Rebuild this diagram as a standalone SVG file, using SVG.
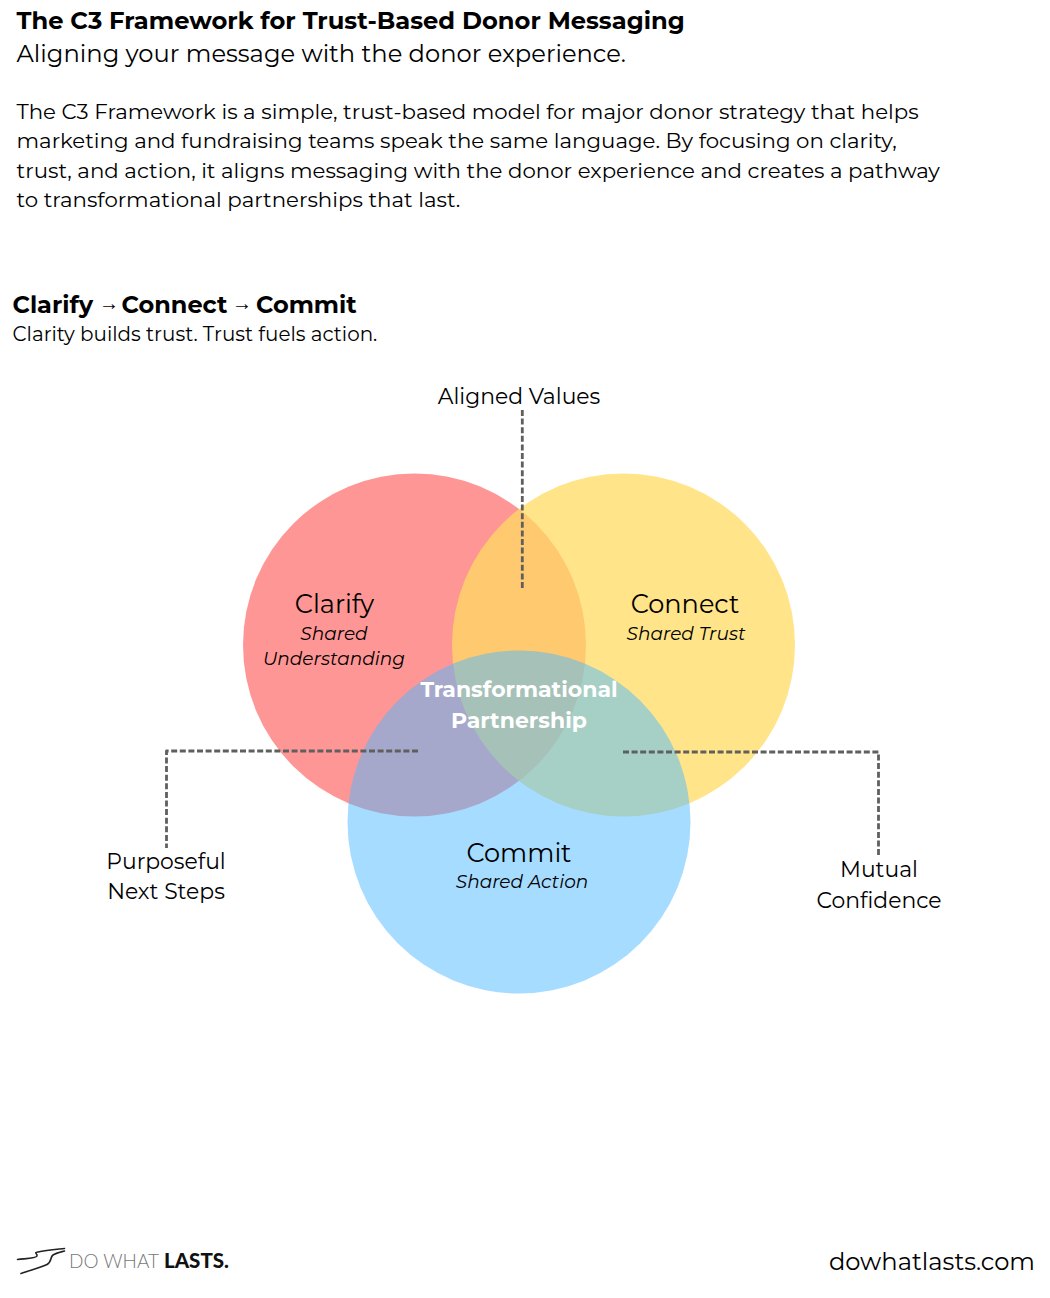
<svg xmlns="http://www.w3.org/2000/svg" width="1050" height="1298" viewBox="0 0 1050 1298">
<style>
text{font-family:"Montserrat","Open Sans","Noto Sans","Liberation Sans",sans-serif;fill:#000}
.c{text-anchor:middle}
.lab{font-size:25.6px;text-anchor:middle}
.sub{font-size:18.5px;font-style:italic;text-anchor:middle}
.ann{font-size:21.9px;text-anchor:middle}
.body{font-size:21.3px}
.arr{font-family:"Liberation Sans",sans-serif;font-weight:700;font-size:20px}
.conn{fill:none;stroke:#5f5f5f;stroke-width:2.800;stroke-dasharray:6 2.600;stroke-linejoin:round}
.logo{fill:none;stroke:#222;stroke-width:1.600;stroke-linecap:round}
</style>
<rect width="1050" height="1298" fill="#fff"/>
<g id="header">
<text x="16.500" y="29" font-size="24.2" font-weight="700">The C3 Framework for Trust-Based Donor Messaging</text>
<text x="16.500" y="62" font-size="24.2">Aligning your message with the donor experience.</text>
<text class="body" x="16.500" y="119">The C3 Framework is a simple, trust-based model for major donor strategy that helps</text>
<text class="body" x="16.500" y="148">marketing and fundraising teams speak the same language. By focusing on clarity,</text>
<text class="body" x="16.500" y="178">trust, and action, it aligns messaging with the donor experience and creates a pathway</text>
<text class="body" x="16.500" y="207">to transformational partnerships that last.</text>
<text x="12.500" y="313" font-size="24" font-weight="700">Clarify<tspan class="arr" x="99" y="310">→</tspan><tspan x="121.500" y="313">Connect</tspan><tspan class="arr" x="232" y="310">→</tspan><tspan x="256" y="313">Commit</tspan></text>
<text x="12.500" y="341" font-size="19.9">Clarity builds trust. Trust fuels action.</text>
</g>
<g id="venn">
<circle id="clarify-circle" cx="414.500" cy="645" r="171.500" fill="#ff2e2e" fill-opacity=".5"/>
<circle id="connect-circle" cx="623.500" cy="645" r="171.500" fill="#ffdb61" fill-opacity=".74"/>
<circle id="commit-circle" cx="519" cy="822" r="171.500" fill="#4db9ff" fill-opacity=".5"/>
</g>
<g id="connectors">
<path class="conn" d="M522.300 410V588"/>
<path class="conn" d="M418 751H166.500V848"/>
<path class="conn" d="M623 752H878.500V855"/>
</g>
<g id="clarify"><text class="lab" x="334.500" y="612.500">Clarify</text><text class="sub" x="334" y="640">Shared</text><text class="sub" x="334" y="665">Understanding</text></g>
<g id="connect"><text class="lab" x="685" y="612.500">Connect</text><text class="sub" x="686" y="640">Shared Trust</text></g>
<g id="commit"><text class="lab" x="519" y="861.500">Commit</text><text class="sub" x="522" y="888">Shared Action</text></g>
<g id="center"><text x="519" y="697" class="c" font-size="22" font-weight="700" style="fill:#fff">Transformational</text><text x="519" y="728" class="c" font-size="22" font-weight="700" style="fill:#fff">Partnership</text></g>
<g id="aligned"><text class="ann" x="519" y="404">Aligned Values</text></g>
<g id="next-steps"><text class="ann" x="166" y="869">Purposeful</text><text class="ann" x="166" y="899">Next Steps</text></g>
<g id="confidence"><text class="ann" x="879" y="877">Mutual</text><text class="ann" x="879" y="908">Confidence</text></g>
<g id="footer">
<path class="logo" d="M17.500 1259.500C26 1258.500 36 1258.500 37 1256C38 1253.500 33 1253 38 1252C46 1250.500 56 1249.500 64.500 1248.500"/>
<path class="logo" d="M21 1273.500C31 1270 41 1267.500 47 1264.500C52 1262 50 1257 53 1255C56 1253 61 1252 64.500 1251"/>
<text x="69" y="1268" font-size="19" style="font-family:Lato,'Open Sans',sans-serif;font-weight:300;fill:#777">DO WHAT <tspan x="164" font-size="20.500" font-weight="900" style="fill:#111">LASTS.</tspan></text>
<text x="1035" y="1270" font-size="24.200" text-anchor="end">dowhatlasts.com</text>
</g>
</svg>
